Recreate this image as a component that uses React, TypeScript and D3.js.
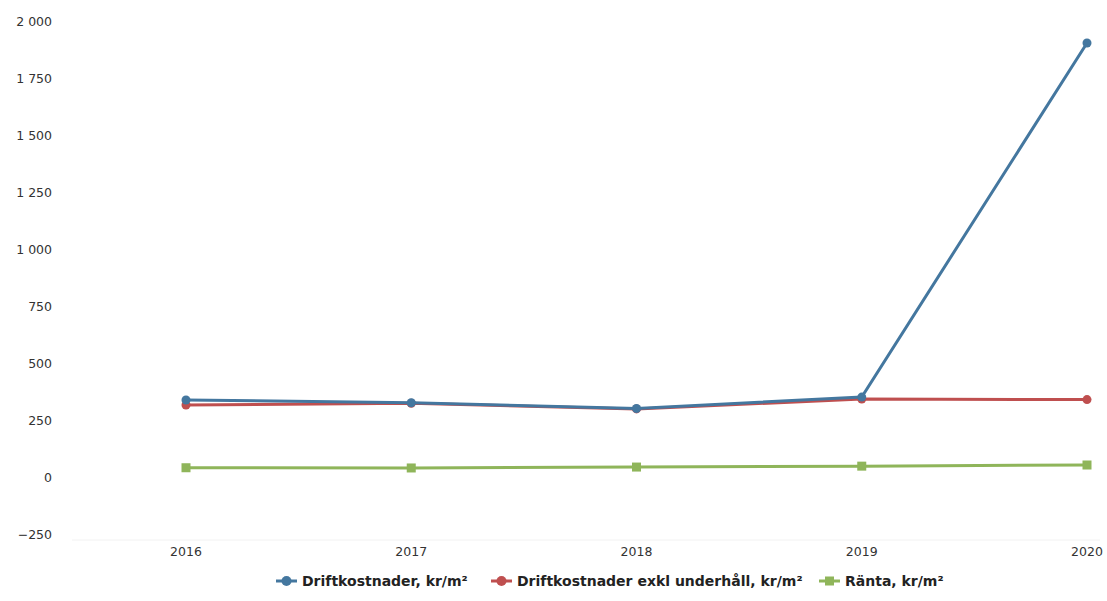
import React from "react";
import * as d3 from "d3";

const years = ["2016", "2017", "2018", "2019", "2020"];
const driftkostnader = [342, 330, 305, 355, 1908];
const driftExkl = [320, 328, 303, 346, 344];
const ranta = [45, 44, 48, 52, 57];
const yTicks = [-250, 0, 250, 500, 750, 1000, 1250, 1500, 1750, 2000];

const seriesNames = [
  "Driftkostnader, kr/m²",
  "Driftkostnader exkl underhåll, kr/m²",
  "Ränta, kr/m²",
];
const seriesColors = ["#44779f", "#bf4f4f", "#8fb55a"];
const seriesShapes = ["circle", "circle", "square"];

const W = 1107;
const H = 601;

export default function App() {
  const x = d3.scalePoint<string>().domain(years).range([186, 1087]);
  const y = d3.scaleLinear().domain([-250, 2000]).range([535, 22]);
  const fmt = (v: number) => {
    const s = d3.format(",")(Math.abs(v)).replace(/,/g, " ");
    return v < 0 ? "−" + s : s;
  };
  const data = [driftkostnader, driftExkl, ranta];
  const line = d3
    .line<number>()
    .x((_, i) => x(years[i]) as number)
    .y((d) => y(d));

  const legendX = [276, 491, 819];

  return (
    <svg
      width={W}
      height={H}
      style={{ position: "absolute", left: 0, top: 0, background: "#fff" }}
      fontFamily="'DejaVu Sans', sans-serif"
    >
      <line x1={72} x2={1100} y1={y(-250) + 5} y2={y(-250) + 5} stroke="#f2f2f2" strokeWidth={1} />
      {yTicks.map((t) => (
        <text key={t} x={52} y={y(t)} dy="0.35em" textAnchor="end" fontSize={12.5} fill="#333">
          {fmt(t)}
        </text>
      ))}
      {years.map((yr) => (
        <text key={yr} x={x(yr)} y={556} textAnchor="middle" fontSize={12.5} fill="#333">
          {yr}
        </text>
      ))}
      {[2, 1, 0].map((si) => (
        <g key={si}>
          <path d={line(data[si]) || ""} fill="none" stroke={seriesColors[si]} strokeWidth={3} />
          {data[si].map((v, i) =>
            seriesShapes[si] === "square" ? (
              <rect
                key={i}
                x={(x(years[i]) as number) - 4.5}
                y={y(v) - 4.5}
                width={9}
                height={9}
                fill={seriesColors[si]}
              />
            ) : (
              <circle key={i} cx={x(years[i]) as number} cy={y(v)} r={4.5} fill={seriesColors[si]} />
            )
          )}
        </g>
      ))}
      {seriesNames.map((n, i) => (
        <g key={n} transform={`translate(${legendX[i]},581)`}>
          <line x1={0} x2={21} y1={0} y2={0} stroke={seriesColors[i]} strokeWidth={3} />
          {seriesShapes[i] === "square" ? (
            <rect x={6} y={-4.5} width={9} height={9} fill={seriesColors[i]} />
          ) : (
            <circle cx={10.5} cy={0} r={5} fill={seriesColors[i]} />
          )}
          <text x={26} y={0} dy="0.35em" fontSize={14} fontWeight="bold" fill="#222">
            {n}
          </text>
        </g>
      ))}
    </svg>
  );
}
